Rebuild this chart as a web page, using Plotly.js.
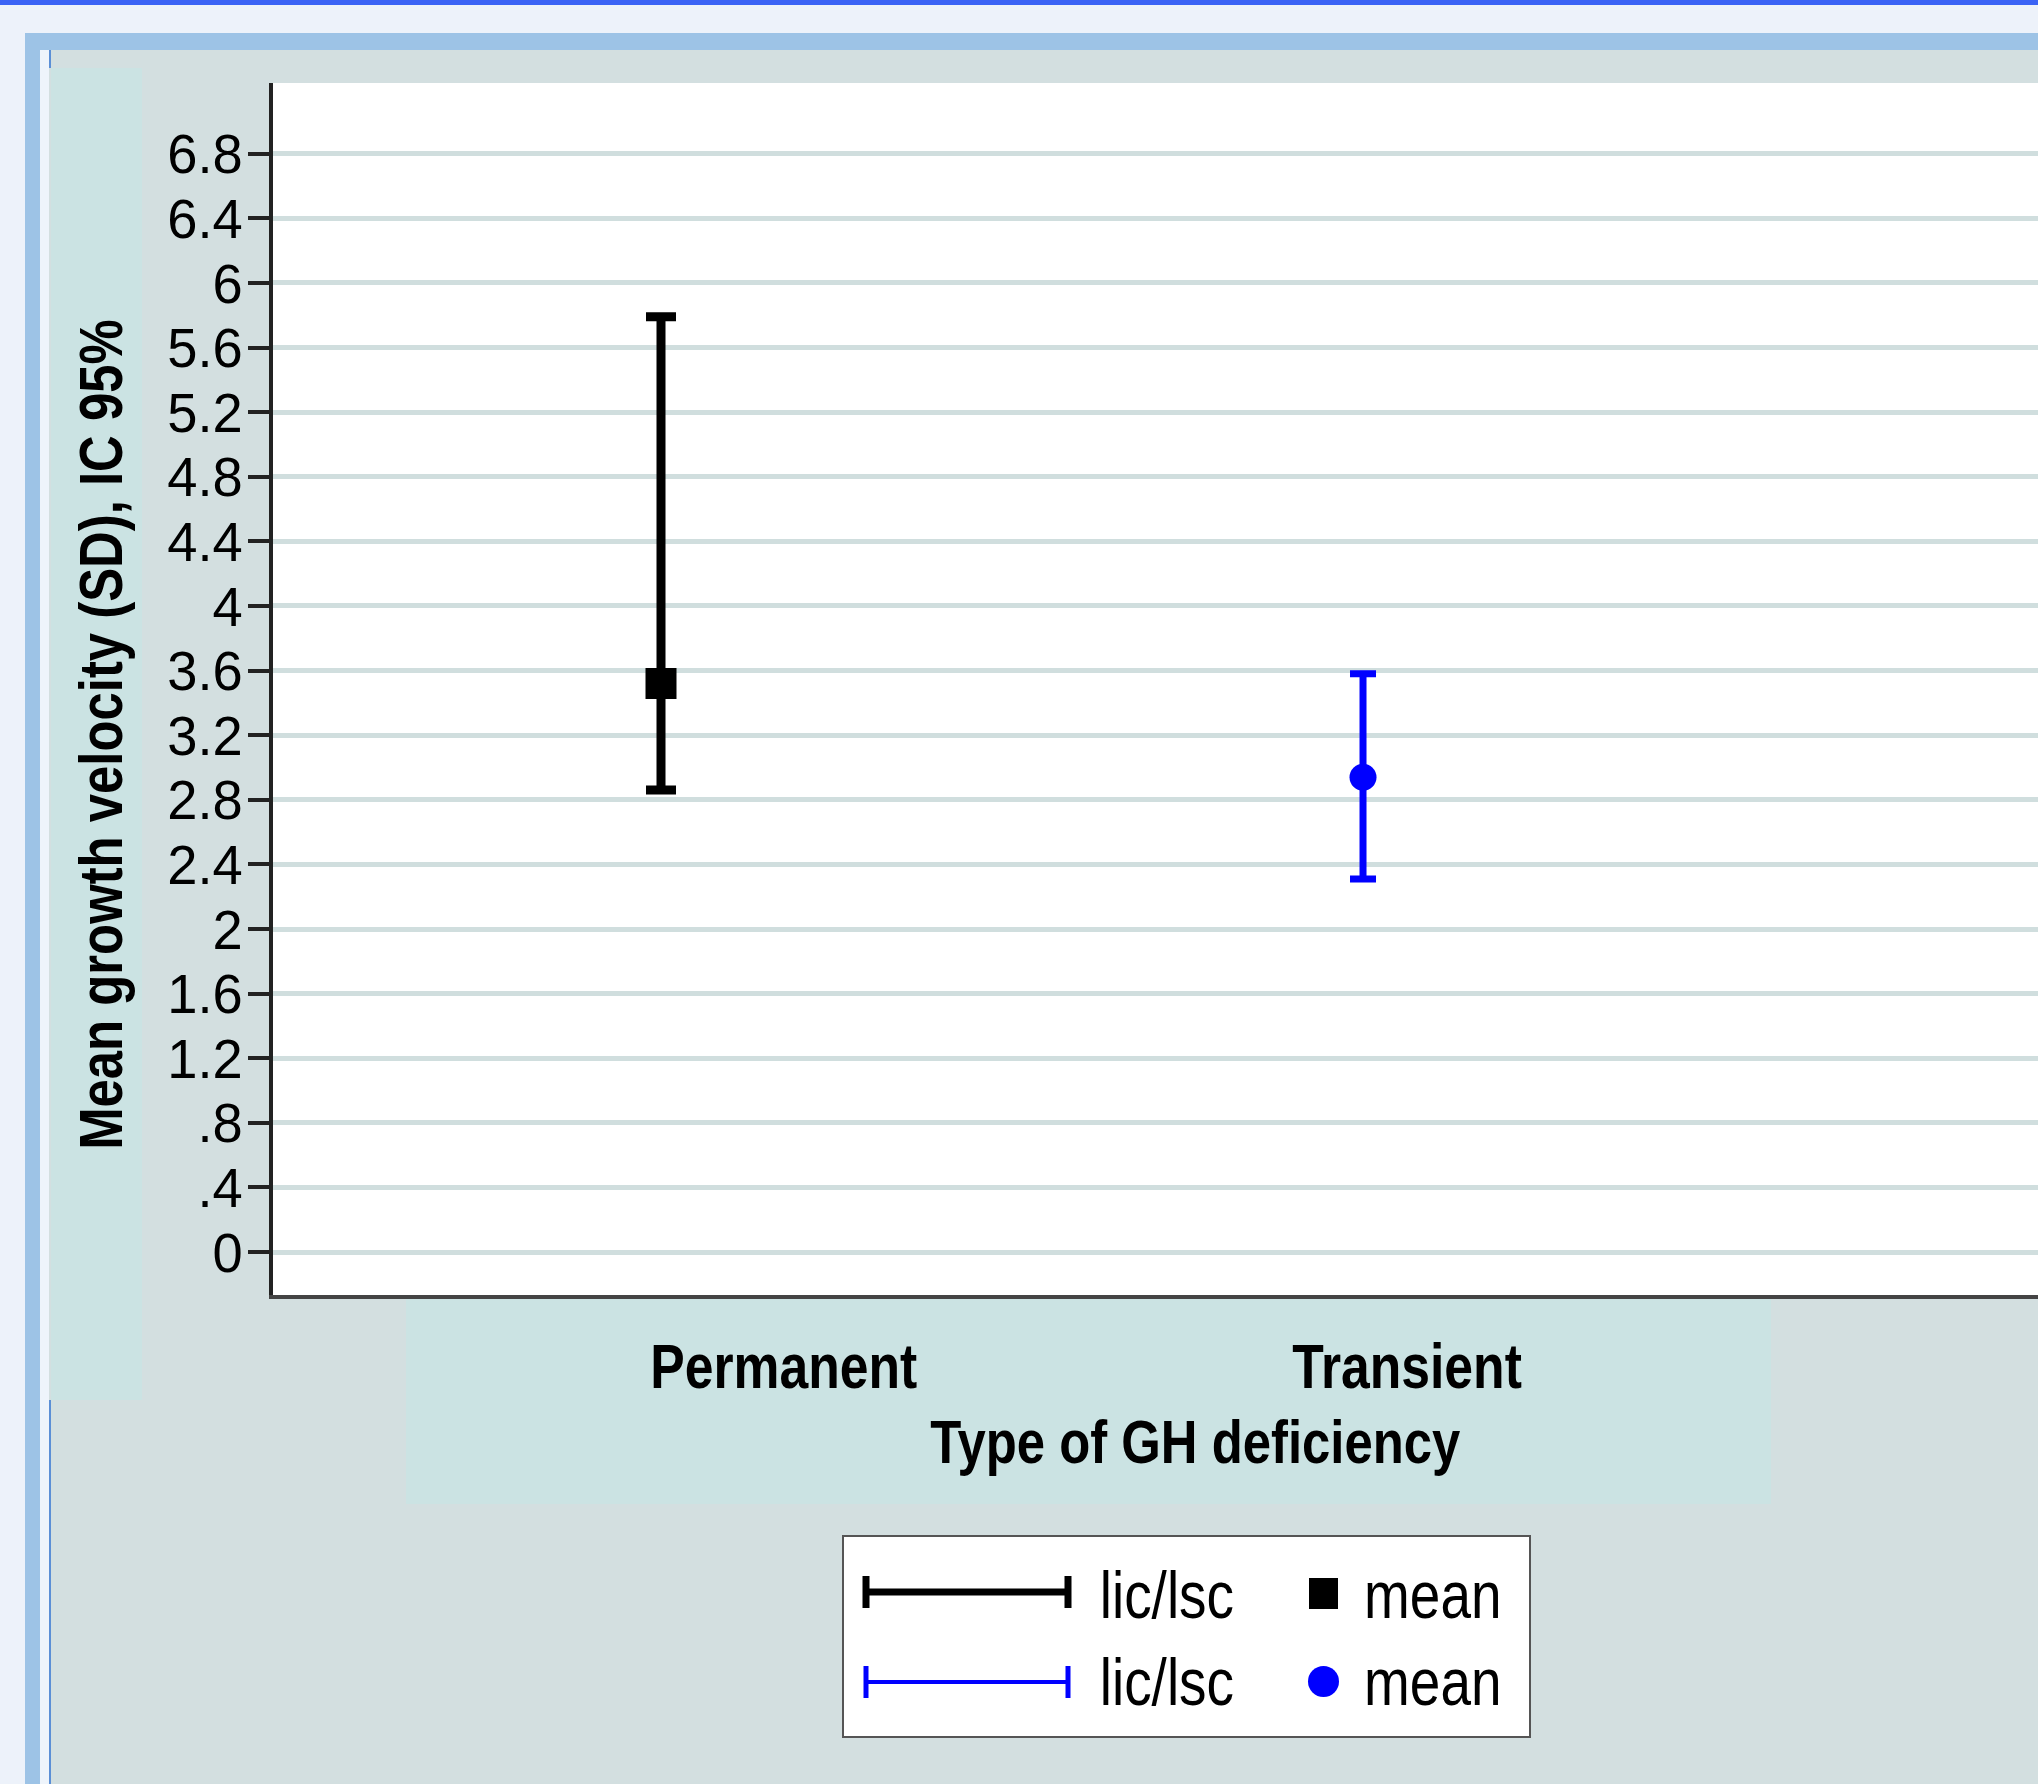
<!DOCTYPE html>
<html>
<head>
<meta charset="utf-8">
<script src="https://cdn.plot.ly/plotly-3.0.1.min.js"></script>
<style>
  html, body { margin: 0; padding: 0; background: #edf2fa; overflow: hidden; }
  #chart { width: 2038px; height: 1784px; }
</style>
</head>
<body>
<div id="chart"></div>
<script>
// ---------------- data ----------------
const categories = ['Permanent', 'Transient'];
const meanValues = [3.52, 2.94];
const lowerCI = [2.86, 2.31];   // lic
const upperCI = [5.79, 3.58];   // lsc
const yTickValues = [0, 0.4, 0.8, 1.2, 1.6, 2, 2.4, 2.8, 3.2, 3.6, 4, 4.4, 4.8, 5.2, 5.6, 6, 6.4, 6.8];
const yTickLabels = ['0', '.4', '.8', '1.2', '1.6', '2', '2.4', '2.8', '3.2', '3.6', '4', '4.4', '4.8', '5.2', '5.6', '6', '6.4', '6.8'];
const legendLabels = ['lic/lsc', 'mean'];
const yTitle = 'Mean growth velocity (SD), IC 95%';
const xTitle = 'Type of GH deficiency';

// ---------------- style ----------------
const seriesColors = ['#000000', '#0000ff'];
const seriesSymbols = ['square', 'circle'];
const markerSizes = [31, 27];
const barThickness = [9, 7];
const capHalfWidth = [15, 13];
const FONT = "'Liberation Sans', Arial, sans-serif";
const TEXT_XSCALE = 0.82;   // the reference text is horizontally condensed
const TICK_XSCALE = 0.97;

const W = 2038, H = 1784;
const L = 273, R = 2038, T = 83, B = 1295;
const px = x => (x - L) / (R - L);
const py = y => (B - y) / (B - T);

const traces = categories.map((c, i) => ({
  type: 'scatter',
  mode: 'markers',
  x: [c],
  y: [meanValues[i]],
  showlegend: false,
  hoverinfo: 'skip',
  marker: { symbol: seriesSymbols[i], size: markerSizes[i], color: seriesColors[i], line: { width: 0 } },
  error_y: {
    type: 'data',
    symmetric: false,
    array: [upperCI[i] - meanValues[i]],
    arrayminus: [meanValues[i] - lowerCI[i]],
    color: seriesColors[i],
    thickness: barThickness[i],
    width: capHalfWidth[i]
  }
}));

function rect(x0, y0, x1, y1, fill, line) {
  return {
    type: 'rect', xref: 'paper', yref: 'paper', layer: 'below',
    x0: px(x0), x1: px(x1), y0: py(y1), y1: py(y0),
    fillcolor: fill, line: line || { width: 0 }
  };
}
function seg(x0, y0, x1, y1, color, width) {
  return {
    type: 'line', xref: 'paper', yref: 'paper', layer: 'above',
    x0: px(x0), x1: px(x1), y0: py(y0), y1: py(y1),
    line: { color: color, width: width }
  };
}

const shapes = [
  // window chrome
  rect(0, 0, W, 33, '#edf2fa'),
  rect(0, 0, 25, H, '#edf2fa'),
  rect(0, 0, W, 5, '#3b63f5'),
  rect(25, 33, 40, H, '#9dc3e6'),
  rect(25, 33, W, 50, '#9dc3e6'),
  rect(40, 50, 49, H, '#eef4fb'),
  rect(49, 50, 51, 68, '#5b8fd6'),
  rect(49, 1400, 51, H, '#5b8fd6'),
  // title boxes
  rect(51, 68, 142, 1400, '#cbe3e3'),
  rect(406, 1298, 1771, 1504, '#cbe3e3'),
  // legend box
  {
    type: 'rect', xref: 'paper', yref: 'paper', layer: 'above',
    x0: px(843), x1: px(1530), y0: py(1737), y1: py(1536),
    fillcolor: '#ffffff', line: { color: '#555555', width: 2 }
  },
  // legend keys: CI lines with caps
  seg(866, 1592, 1068, 1592, seriesColors[0], 7),
  seg(866, 1576, 866, 1608, seriesColors[0], 7),
  seg(1068, 1576, 1068, 1608, seriesColors[0], 7),
  seg(866, 1682, 1068, 1682, seriesColors[1], 4),
  seg(866, 1666, 866, 1698, seriesColors[1], 5),
  seg(1068, 1666, 1068, 1698, seriesColors[1], 5),
  // legend keys: mean markers
  {
    type: 'rect', xref: 'paper', yref: 'paper', layer: 'above',
    x0: px(1309), x1: px(1338), y0: py(1609), y1: py(1578),
    fillcolor: seriesColors[0], line: { width: 0 }
  },
  {
    type: 'circle', xref: 'paper', yref: 'paper', layer: 'above',
    x0: px(1308), x1: px(1339), y0: py(1697), y1: py(1666),
    fillcolor: seriesColors[1], line: { width: 0 }
  }
];

const catShift = [123, 44];
const annotations = [];
categories.forEach((c, i) => {
  annotations.push({
    text: c, xref: 'x', yref: 'paper', x: c, y: py(1366),
    xshift: catShift[i], xanchor: 'center', yanchor: 'middle', showarrow: false,
    font: { family: FONT, size: 63, color: '#000', weight: 'bold' }
  });
});
annotations.push({
  text: xTitle, xref: 'paper', yref: 'paper', x: px(1195), y: py(1441),
  xanchor: 'center', yanchor: 'middle', showarrow: false,
  font: { family: FONT, size: 62, color: '#000', weight: 'bold' }
});
annotations.push({
  text: yTitle, xref: 'paper', yref: 'paper', x: px(100), y: py(735),
  xanchor: 'center', yanchor: 'middle', textangle: -90, showarrow: false,
  font: { family: FONT, size: 62, color: '#000', weight: 'bold' }
});
// legend labels
[1594, 1681].forEach(yy => {
  annotations.push({
    text: legendLabels[0], xref: 'paper', yref: 'paper', x: px(1167), y: py(yy),
    xanchor: 'center', yanchor: 'middle', showarrow: false,
    font: { family: FONT, size: 67, color: '#000' }
  });
  annotations.push({
    text: legendLabels[1], xref: 'paper', yref: 'paper', x: px(1433), y: py(yy),
    xanchor: 'center', yanchor: 'middle', showarrow: false,
    font: { family: FONT, size: 67, color: '#000' }
  });
});

const layout = {
  width: W, height: H,
  margin: { l: L, r: W - R, t: T, b: H - B, pad: 0 },
  paper_bgcolor: '#d3dfe0',
  plot_bgcolor: '#ffffff',
  showlegend: false,
  xaxis: {
    type: 'category',
    categoryorder: 'array', categoryarray: categories,
    range: [-0.5527, 1.9615],
    showgrid: false, zeroline: false,
    showticklabels: false, ticks: '',
    showline: true, linecolor: '#444444', linewidth: 4,
    fixedrange: true
  },
  yaxis: {
    range: [-0.266, 7.238],
    tickmode: 'array', tickvals: yTickValues, ticktext: yTickLabels,
    ticks: 'outside', ticklen: 21, tickwidth: 4, tickcolor: '#222222',
    ticklabelstandoff: -6,
    tickfont: { family: FONT, size: 56, color: '#000' },
    showgrid: true, gridcolor: '#d0dede', gridwidth: 5,
    zeroline: false,
    showline: true, linecolor: '#222222', linewidth: 4,
    fixedrange: true
  },
  shapes: shapes,
  annotations: annotations
};

function condense(t, s) {
  if (!t.textContent) return;
  const ax = parseFloat(t.getAttribute('x')) || 0;
  const prev = t.getAttribute('transform') || '';
  t.setAttribute('transform',
    prev + ' translate(' + ax + ',0) scale(' + s + ',1) translate(' + (-ax) + ',0)');
}

Plotly.newPlot('chart', traces, layout, { displayModeBar: false, staticPlot: true }).then(gd => {
  gd.querySelectorAll('.annotation-text').forEach(t => condense(t, TEXT_XSCALE));
  gd.querySelectorAll('.ytick text').forEach(t => condense(t, TICK_XSCALE));
});
</script>
</body>
</html>
